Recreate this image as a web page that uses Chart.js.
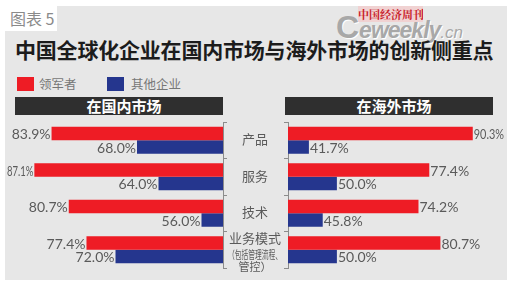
<!DOCTYPE html>
<html>
<head>
<meta charset="utf-8">
<script src="https://cdn.jsdelivr.net/npm/chart.js@4.4.1/dist/chart.umd.min.js"></script>
<style>
html, body { margin: 0; padding: 0; background: #fff; }
#wrap { position: relative; width: 510px; height: 286px; overflow: hidden; font-family: "Noto Sans CJK SC", sans-serif; }
#panel { position: absolute; left: 5px; top: 6px; width: 502px; height: 274px; background: #e7e7e7; }
#tag { position: absolute; left: 5px; top: 6px; width: 52px; height: 25px; background: #fff; color: #8a8a8a; font-size: 16px; line-height: 25px; padding-left: 5px; box-sizing: border-box; }
#title { position: absolute; left: 15px; top: 34px; font-size: 21px; font-weight: bold; color: #1c1c1c; letter-spacing: -0.2px; white-space: nowrap; line-height: 30px; }
#mark1 { position: absolute; left: 358px; top: 6px; width: 65px; height: 16px; background: #f0d2d2; color: #c8202a; font-size: 11px; font-weight: bold; line-height: 16px; text-align: center; white-space: nowrap; overflow: hidden; font-family: "Noto Serif CJK SC", "Noto Sans CJK SC", serif; }
#mark2 { position: absolute; left: 336px; top: 9px; color: #a8a8a8; font-family: "Liberation Sans", sans-serif; font-weight: bold; font-style: italic; white-space: nowrap; text-shadow: 1px 1px 0 #fff; }
#mark2 .c { font-size: 32px; font-style: normal; }
#mark2 .w { font-size: 23px; letter-spacing: -1px; }
#mark2 .n { font-size: 17px; font-weight: normal; }
.leg { position: absolute; top: 77px; width: 17px; height: 14px; }
.legt { position: absolute; top: 75px; font-size: 12.5px; color: #777; line-height: 18px; }
.head { position: absolute; top: 97px; width: 208px; height: 18px; background: #2f2f2f; color: #fff; font-size: 15px; font-weight: bold; line-height: 18px; text-align: center; box-sizing: border-box; padding-left: 10px; }
canvas { position: absolute; left: 0; top: 0; }
</style>
</head>
<body>
<div id="wrap">
  <div id="panel"></div>
  <div id="tag">图表 5</div>
  <div id="mark2"><span class="c">C</span><span class="w">eweekly</span><span class="n">.cn</span></div>
  <div id="mark1">中国经济周刊</div>
  <div id="title">中国全球化企业在国内市场与海外市场的创新侧重点</div>
  <div class="leg" style="left:17px;background:#ee1c25"></div>
  <div class="legt" style="left:39px">领军者</div>
  <div class="leg" style="left:107px;background:#25368e"></div>
  <div class="legt" style="left:131px">其他企业</div>
  <div class="head" style="left:15px">在国内市场</div>
  <div class="head" style="left:285px">在海外市场</div>
  <canvas id="left" width="510" height="286"></canvas>
  <canvas id="right" width="510" height="286"></canvas>
</div>
<script>
const categories = ['产品', '服务', '技术', ['业务模式', '（包括管理流程、', '管控）']];
const seriesNames = ['领军者', '其他企业'];
const domesticLeaders = [83.9, 87.1, 80.7, 77.4];
const domesticOthers = [68.0, 64.0, 56.0, 72.0];
const overseasLeaders = [90.3, 77.4, 74.2, 80.7];
const overseasOthers = [41.7, 50.0, 45.8, 50.0];

const RED = '#ee1c25';
const BLUE = '#25368e';

// value text next to the end of every bar, squeezed if it would leave the panel
function valueLabels(side) {
  return {
    id: 'valueLabels',
    afterDatasetsDraw(chart) {
      const ctx = chart.ctx;
      ctx.save();
      ctx.font = '14px Lato, "Liberation Sans", sans-serif';
      ctx.fillStyle = '#5a5a5a';
      ctx.textBaseline = 'middle';
      chart.data.datasets.forEach((ds, di) => {
        chart.getDatasetMeta(di).data.forEach((bar, i) => {
          const txt = ds.data[i].toFixed(1) + '%';
          if (side === 'left') {
            ctx.textAlign = 'right';
            ctx.fillText(txt, bar.x - 1, bar.y + 1, Math.min(40, bar.x - 8));
          } else {
            ctx.textAlign = 'left';
            ctx.fillText(txt, bar.x + 1, bar.y + 1, Math.min(40, 503 - bar.x));
          }
        });
      });
      ctx.restore();
    }
  };
}

// category names in the gap between the two charts
const categoryNames = {
  id: 'categoryNames',
  afterDraw(chart) {
    const ctx = chart.ctx;
    const y = chart.scales.y;
    const cx = chart.chartArea.left - 33;
    ctx.save();
    ctx.fillStyle = '#5a5a5a';
    ctx.textAlign = 'center';
    ctx.textBaseline = 'middle';
    chart.data.labels.forEach((lab, i) => {
      const py = y.getPixelForValue(i);
      if (Array.isArray(lab)) {
        ctx.font = '13px "Noto Sans CJK SC", sans-serif';
        ctx.fillText(lab[0], cx, py - 12);
        ctx.font = '11px "Noto Sans CJK SC", sans-serif';
        ctx.fillText(lab[1], cx, py + 5, 54);
        ctx.fillText(lab[2], cx, py + 17, 54);
      } else {
        ctx.font = '13px "Noto Sans CJK SC", sans-serif';
        ctx.fillText(lab, cx, py - 1);
      }
    });
    ctx.restore();
  }
};

function makeChart(id, leaders, others, side) {
  const isLeft = side === 'left';
  return new Chart(document.getElementById(id), {
    type: 'bar',
    data: {
      labels: categories,
      datasets: [
        { label: seriesNames[0], data: leaders, backgroundColor: RED, barPercentage: 1, categoryPercentage: 0.74 },
        { label: seriesNames[1], data: others, backgroundColor: BLUE, barPercentage: 1, categoryPercentage: 0.74 }
      ]
    },
    options: {
      indexAxis: 'y',
      responsive: false,
      animation: false,
      layout: {
        padding: isLeft
          ? { left: 15, right: 283, top: 122, bottom: 18 }
          : { left: 284, right: 17, top: 122, bottom: 18 }
      },
      plugins: { legend: { display: false }, tooltip: { enabled: false } },
      scales: {
        x: isLeft
          ? { reverse: true, min: 52, max: 90.7, display: false }
          : { min: 35.5, max: 96.3, display: false },
        y: {
          position: isLeft ? 'right' : 'left',
          grid: { drawOnChartArea: false, tickLength: 4, color: '#8c8c8c', lineWidth: 1 },
          border: { color: '#8c8c8c', width: 1 },
          ticks: { display: false }
        }
      }
    },
    plugins: isLeft ? [valueLabels('left')] : [valueLabels('right'), categoryNames]
  });
}

makeChart('left', domesticLeaders, domesticOthers, 'left');
makeChart('right', overseasLeaders, overseasOthers, 'right');
</script>
</body>
</html>
